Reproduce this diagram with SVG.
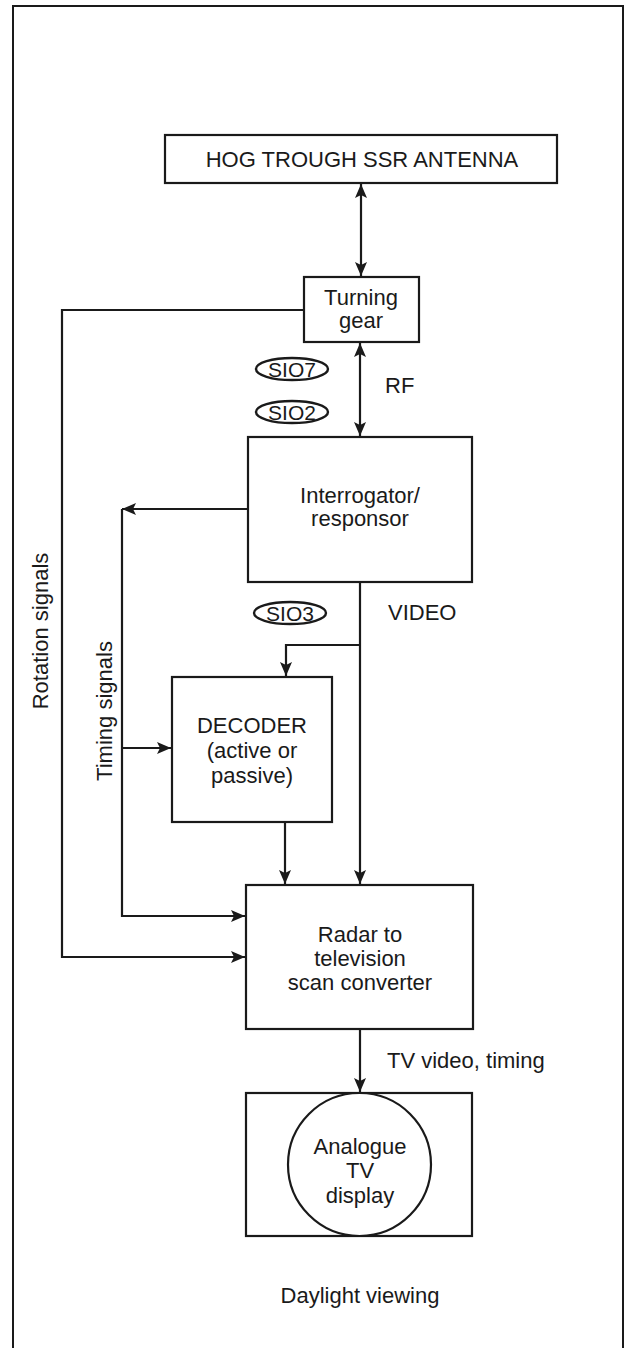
<svg xmlns="http://www.w3.org/2000/svg" width="625" height="1348" viewBox="0 0 625 1348">
<style>
.box{fill:#fff;stroke:#1a1a1a;stroke-width:2.2}
.ln{fill:none;stroke:#1a1a1a;stroke-width:2.2}
.t{font-family:"Liberation Sans",Arial,sans-serif;font-size:22px;fill:#1a1a1a;text-anchor:middle}
.l{font-family:"Liberation Sans",Arial,sans-serif;font-size:22px;fill:#1a1a1a}
.oval{fill:#fff;stroke:#1a1a1a;stroke-width:2.4}
.s{font-family:"Liberation Sans",Arial,sans-serif;font-size:21px;fill:#1a1a1a;text-anchor:middle}
</style>
<defs>
<marker id="ah" viewBox="0 0 14 12" refX="14" refY="6" markerWidth="14" markerHeight="12" markerUnits="userSpaceOnUse" orient="auto-start-reverse">
<path d="M0,0 L14,6 L0,12 L3,6 z" fill="#1a1a1a"/>
</marker>
</defs>
<rect width="625" height="1348" fill="#fff"/>
<rect id="frame" x="13" y="6" width="610" height="1360" fill="none" stroke="#1a1a1a" stroke-width="2"/>
<g id="antenna"><rect class="box" x="165" y="135" width="392" height="48"/><text class="t" x="362" y="167">HOG TROUGH SSR ANTENNA</text></g>
<g id="turning"><rect class="box" x="304" y="277" width="115" height="65"/><text class="t" x="361" y="305">Turning</text><text class="t" x="361" y="328">gear</text></g>
<g id="interrogator"><rect class="box" x="248" y="437" width="224" height="145"/><text class="t" x="360" y="503">Interrogator/</text><text class="t" x="360" y="526">responsor</text></g>
<g id="decoder"><rect class="box" x="172" y="677" width="160" height="145"/><text class="t" x="252" y="733">DECODER</text><text class="t" x="252" y="758">(active or</text><text class="t" x="252" y="783">passive)</text></g>
<g id="converter"><rect class="box" x="246" y="885" width="227" height="144"/><text class="t" x="360" y="942">Radar to</text><text class="t" x="360" y="966">television</text><text class="t" x="360" y="990">scan converter</text></g>
<g id="display"><rect class="box" x="246" y="1093" width="226" height="143"/><circle class="box" cx="359.5" cy="1164.5" r="71.5"/><text class="t" x="360" y="1154">Analogue</text><text class="t" x="360" y="1178">TV</text><text class="t" x="360" y="1203">display</text></g>
<g id="sio7"><ellipse class="oval" cx="292" cy="369" rx="36" ry="11"/><text class="s" x="292" y="377">SIO7</text></g>
<g id="sio2"><ellipse class="oval" cx="292" cy="412" rx="36" ry="11"/><text class="s" x="292" y="420">SIO2</text></g>
<g id="sio3"><ellipse class="oval" cx="290" cy="613" rx="36" ry="11"/><text class="s" x="290" y="621">SIO3</text></g>
<g id="connectors">
<path class="ln" d="M361,184 L361,276" marker-start="url(#ah)" marker-end="url(#ah)"/>
<path class="ln" d="M360,343 L360,436" marker-start="url(#ah)" marker-end="url(#ah)"/>
<path class="ln" d="M304,310 L62,310 L62,957 L245,957" marker-end="url(#ah)"/>
<path class="ln" d="M248,509 L122,509" marker-end="url(#ah)"/>
<path class="ln" d="M122,509 L122,916 L245,916" marker-end="url(#ah)"/>
<path class="ln" d="M122,748 L171,748" marker-end="url(#ah)"/>
<path class="ln" d="M360,582 L360,884" marker-end="url(#ah)"/>
<path class="ln" d="M360,645 L286,645 L286,676" marker-end="url(#ah)"/>
<path class="ln" d="M285,822 L285,884" marker-end="url(#ah)"/>
<path class="ln" d="M360,1029 L360,1092" marker-end="url(#ah)"/>
</g>
<text class="l" x="385" y="393">RF</text>
<text class="l" x="388" y="620">VIDEO</text>
<text class="l" x="387" y="1068">TV video, timing</text>
<text class="t" x="360" y="1303">Daylight viewing</text>
<text class="t" transform="translate(48,631) rotate(-90)">Rotation signals</text>
<text class="t" transform="translate(112,711) rotate(-90)">Timing signals</text>
</svg>
